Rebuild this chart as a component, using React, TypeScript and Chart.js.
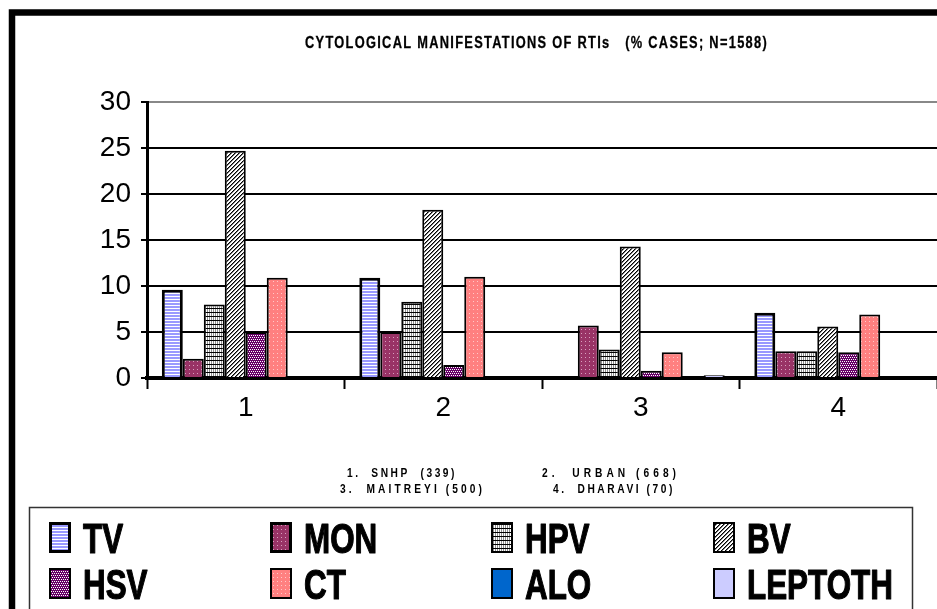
import { useEffect, useRef } from 'react';
import { Chart, registerables } from 'chart.js';
Chart.register(...registerables);

const CATEGORIES = ['1', '2', '3', '4'];
const TV = [9.6, 10.9, 0, 7.1];
const MON = [2.1, 5.0, 5.7, 2.9];
const HPV = [8.0, 8.3, 3.1, 2.9];
const BV = [24.7, 18.3, 14.3, 5.6];
const HSV = [5.0, 1.4, 0.8, 2.8];
const CT = [10.9, 11.0, 2.8, 6.9];
const ALO = [0, 0, 0, 0];
const LEPTOTH = [0, 0, 0.3, 0];
const SERIES_NAMES = ['TV', 'MON', 'HPV', 'BV', 'HSV', 'CT', 'ALO', 'LEPTOTH'];
const Y_MIN = 0;
const Y_MAX = 30;
const Y_STEP = 5;
const TITLE = 'CYTOLOGICAL MANIFESTATIONS OF RTIs   (% CASES; N=1588)';
const NOTE_1A = '1.  SNHP  (339)';
const NOTE_1B = '2.  URBAN (668)';
const NOTE_2A = '3.  MAITREYI (500)';
const NOTE_2B = '4.  DHARAVI (70)';

const FONT = '"Liberation Sans", Arial, sans-serif';

function makePattern(w: number, h: number, draw: (c: CanvasRenderingContext2D) => void) {
  const cv = document.createElement('canvas');
  cv.width = w;
  cv.height = h;
  const c = cv.getContext('2d')!;
  draw(c);
  const ctx = document.createElement('canvas').getContext('2d')!;
  return ctx.createPattern(cv, 'repeat') as CanvasPattern;
}

function buildFills() {
  const tv = makePattern(1, 3, (c) => {
    c.fillStyle = '#fff'; c.fillRect(0, 0, 1, 3);
    c.fillStyle = '#9999ff'; c.fillRect(0, 0, 1, 2);
  });
  const mon = makePattern(4, 4, (c) => {
    c.fillStyle = '#993366'; c.fillRect(0, 0, 4, 4);
    c.fillStyle = '#d9a0bf'; c.fillRect(1, 1, 1, 1);
  });
  const hpv = makePattern(2, 4, (c) => {
    c.fillStyle = '#fff'; c.fillRect(0, 0, 2, 4);
    c.fillStyle = '#8c8c8c'; c.fillRect(1, 0, 1, 4);
    c.fillStyle = '#000'; c.fillRect(0, 0, 2, 1);
  });
  const bv = makePattern(4, 4, (c) => {
    c.fillStyle = '#fff'; c.fillRect(0, 0, 4, 4);
    for (let y = 0; y < 4; y++) {
      const x = (3 - y + 4) % 4;
      c.fillStyle = '#000';
      c.fillRect(x, y, 1, 1);
      c.fillStyle = '#777';
      c.fillRect((x + 1) % 4, y, 1, 1);
    }
  });
  const hsv = makePattern(4, 4, (c) => {
    c.fillStyle = '#660066'; c.fillRect(0, 0, 4, 4);
    c.fillStyle = '#fff';
    c.fillRect(0, 1, 1, 1); c.fillRect(2, 1, 1, 1);
    c.fillRect(1, 3, 1, 1); c.fillRect(3, 3, 1, 1);
  });
  const ct = makePattern(4, 4, (c) => {
    c.fillStyle = '#ff8080'; c.fillRect(0, 0, 4, 4);
    c.fillStyle = '#ffc8c8'; c.fillRect(1, 1, 1, 1);
  });
  return [tv, mon, hpv, bv, hsv, ct, '#0066cc', '#ccccff'];
}

function drawText(
  ctx: CanvasRenderingContext2D, text: string, x: number, y: number,
  font: string, target: number | null, sx: number, stroke = 0,
) {
  ctx.save();
  ctx.font = font;
  (ctx as any).letterSpacing = '0px';
  const w0 = ctx.measureText(text).width;
  const ls = target != null ? (target / sx - w0) / text.length : 0;
  ctx.translate(x, y);
  ctx.scale(sx, 1);
  (ctx as any).letterSpacing = ls + 'px';
  ctx.textAlign = 'left';
  ctx.textBaseline = 'alphabetic';
  ctx.fillStyle = '#000';
  ctx.fillText(text, 0, 0);
  if (stroke > 0) {
    ctx.strokeStyle = '#000';
    ctx.lineWidth = stroke;
    ctx.lineJoin = 'round';
    ctx.strokeText(text, 0, 0);
  }
  ctx.restore();
}

const decorPlugin = {
  id: 'decor',
  afterDraw(chart: any) {
    const ctx: CanvasRenderingContext2D = chart.ctx;
    // outer frame
    ctx.save();
    ctx.strokeStyle = '#000';
    ctx.lineWidth = 6.5;
    ctx.beginPath();
    ctx.moveTo(12, 700);
    ctx.lineTo(12, 12.5);
    ctx.lineTo(960, 12.5);
    ctx.stroke();
    ctx.restore();

    // title & notes
    drawText(ctx, TITLE, 305, 48, `bold 16px ${FONT}`, 463, 0.8, 0.3);
    drawText(ctx, NOTE_1A, 347, 477, `bold 12px ${FONT}`, 110, 0.85);
    drawText(ctx, NOTE_1B, 542, 477, `bold 12px ${FONT}`, 138, 0.85);
    drawText(ctx, NOTE_2A, 340, 493, `bold 12px ${FONT}`, 145, 0.85);
    drawText(ctx, NOTE_2B, 553, 493, `bold 12px ${FONT}`, 122, 0.85);

    // legend box
    ctx.save();
    ctx.strokeStyle = '#333';
    ctx.lineWidth = 1.5;
    ctx.strokeRect(29.5, 507.5, 883, 200);
    ctx.restore();

    const colX = [49, 270, 491, 713];
    const rowTop = [522, 568];
    chart.data.datasets.forEach((ds: any, i: number) => {
      const x = colX[i % 4];
      const y = rowTop[Math.floor(i / 4)];
      ctx.save();
      ctx.fillStyle = ds.backgroundColor;
      ctx.fillRect(x, y, 22, 31);
      ctx.strokeStyle = '#000';
      ctx.lineWidth = i < 2 ? 3 : 2;
      const o = ctx.lineWidth / 2;
      ctx.strokeRect(x + o, y + o, 22 - 2 * o, 31 - 2 * o);
      ctx.restore();
      drawText(ctx, ds.label, x + 34, y + 31, `bold 43px ${FONT}`, null, 0.73, 1.2);
    });
  },
};

export default function App() {
  const ref = useRef<HTMLCanvasElement>(null);
  useEffect(() => {
    document.body.style.margin = '0';
    const fills = buildFills();
    const values = [TV, MON, HPV, BV, HSV, CT, ALO, LEPTOTH];
    const chart = new Chart(ref.current!, {
      type: 'bar',
      data: {
        labels: CATEGORIES,
        datasets: SERIES_NAMES.map((name, i) => ({
          label: name,
          data: values[i],
          backgroundColor: fills[i] as any,
          borderColor: '#000',
          borderWidth: i === 0 ? 3 : 2,
          categoryPercentage: 0.85,
          barPercentage: 1,
        })),
      },
      options: {
        responsive: false,
        animation: false,
        devicePixelRatio: 1,
        layout: { padding: { left: 0, right: 0, top: 102, bottom: 181 } },
        plugins: {
          legend: { display: false },
          title: { display: false },
          tooltip: { enabled: false },
        },
        scales: {
          x: {
            type: 'category',
            offset: true,
            grid: {
              offset: true,
              drawOnChartArea: false,
              drawTicks: true,
              tickLength: 11,
              tickWidth: 2,
              tickColor: '#000',
            },
            border: { display: true, width: 4, color: '#000' },
            ticks: { font: { size: 28, family: FONT }, color: '#000', padding: 2 },
            afterFit: (s: any) => { s.height = 50; },
          },
          y: {
            min: Y_MIN,
            max: Y_MAX,
            ticks: { stepSize: Y_STEP, font: { size: 28, family: FONT }, color: '#000', padding: 10 },
            grid: {
              color: (c: any) => (c.tick && c.tick.value === Y_MAX ? '#888' : '#000'),
              lineWidth: 2,
              tickLength: 6,
              tickColor: '#000',
              tickWidth: 2,
            },
            border: { display: true, width: 3, color: '#000' },
            afterFit: (s: any) => { s.width = 147; },
          },
        },
      },
      plugins: [decorPlugin],
    });
    return () => chart.destroy();
  }, []);
  return (
    <div style={{ width: 937, height: 609, overflow: 'hidden', background: '#fff' }}>
      <canvas ref={ref} width={937} height={609} style={{ display: 'block' }} />
    </div>
  );
}
